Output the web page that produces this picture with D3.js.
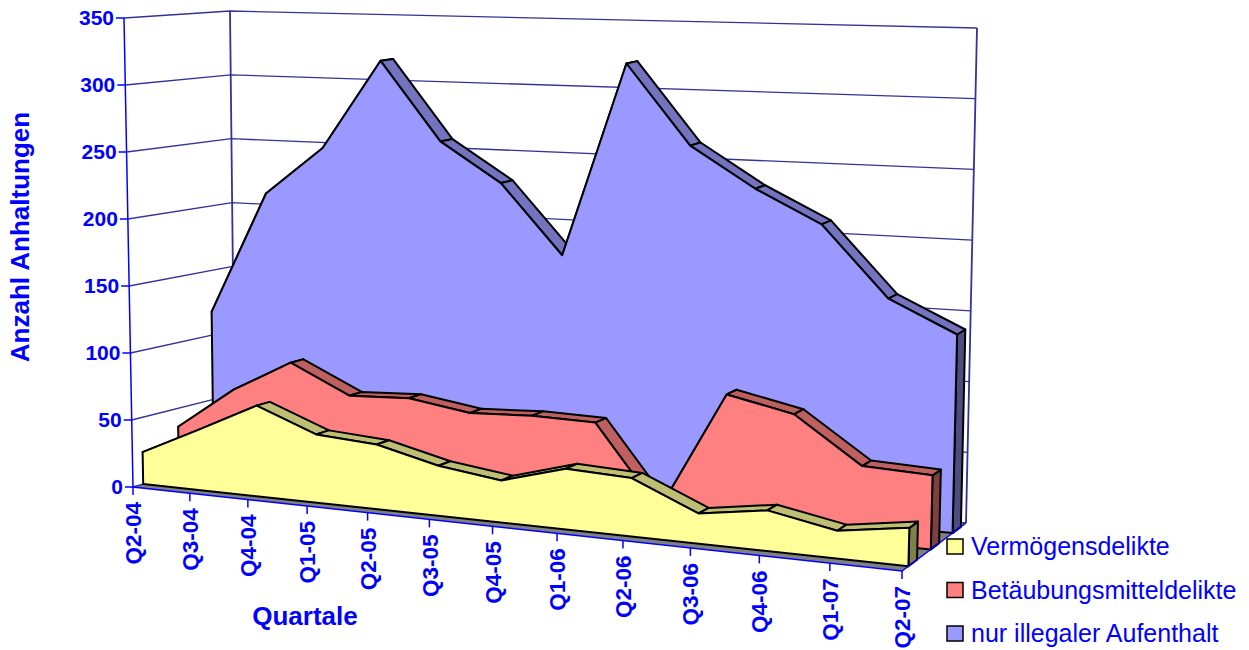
<!DOCTYPE html>
<html>
<head>
<meta charset="utf-8">
<script src="https://cdn.jsdelivr.net/npm/d3@7"></script>
<style>
  body { margin: 0; background: #fff; }
  text { font-family: 'Liberation Sans', Arial, sans-serif; fill: #0000ff; }
</style>
</head>
<body>
<svg width="1249" height="650"></svg>
<script>
const quarters = ['Q2-04', 'Q3-04', 'Q4-04', 'Q1-05', 'Q2-05', 'Q3-05', 'Q4-05', 'Q1-06', 'Q2-06', 'Q3-06', 'Q4-06', 'Q1-07', 'Q2-07']
const yTicks = [0, 50, 100, 150, 200, 250, 300, 350]
const vermoegen = [24, 45, 67, 50, 47, 36, 30, 43, 41, 21, 28, 19, 26]
const betaeubung = [36, 68, 92, 71, 73, 66, 68, 67, 9, 95, 85, 53, 51]
const illegal = [118, 212, 249, 317, 258, 229, 178, 321, 263, 234, 211, 161, 139]
const seriesNames = ['Vermögensdelikte', 'Betäubungsmitteldelikte', 'nur illegaler Aufenthalt']

// corners of the 3d box in screen pixels, floor and top, front and back
const floorFL = [133, 487]
const floorFR = [902, 571]
const floorBL = [235, 458]
const floorBR = [966, 523]
const topFL = [124, 18]
const topFR = [915, 52]
const topBL = [230, 11]
const topBR = [977, 28]

const x = d3.scalePoint().domain(d3.range(quarters.length)).range([0, 1])
const y = d3.scaleLinear().domain([0, 350]).range([0, 1])
const mix = d3.interpolateArray

// categories get wider towards the right because of the perspective
function warp (t, z) {
  const a = -0.122 + 0.012 * z
  return t * (1 + a) / (1 + a * t)
}

function project (i, value, z) {
  const u = warp(x(i), z)
  const bottom = mix(mix(floorFL, floorFR)(u), mix(floorBL, floorBR)(u))(z)
  const top = mix(mix(topFL, topFR)(u), mix(topBL, topBR)(u))(z)
  return mix(bottom, top)(y(value))
}

// wall and floor lines are not tied to a category, they use the end points
function boxPoint (t, value, z) {
  const bottom = mix(mix(floorFL, floorFR)(t), mix(floorBL, floorBR)(t))(z)
  const top = mix(mix(topFL, topFR)(t), mix(topBL, topBR)(t))(z)
  return mix(bottom, top)(y(value))
}

const svg = d3.select('svg')
const line = d3.line()
const poly = function (pts) { return line(pts) + 'Z' }

// floor
svg.append('path')
  .attr('d', poly([floorFL, floorFR, floorBR, floorBL]))
  .attr('fill', '#808080')

// grid on side wall and back wall
const wallColor = '#333399'
svg.selectAll('.grid')
  .data(yTicks)
  .enter().append('path')
  .attr('class', 'grid')
  .attr('fill', 'none')
  .attr('stroke', wallColor)
  .attr('stroke-width', 1.3)
  .attr('d', function (d) { return line([boxPoint(0, d, 0), boxPoint(0, d, 1), boxPoint(1, d, 1)]) })

svg.append('path')
  .attr('d', line([floorBL, topBL]))
  .attr('stroke', wallColor)
  .attr('stroke-width', 1.8)
svg.append('path')
  .attr('d', line([floorBR, topBR]))
  .attr('stroke', wallColor)
  .attr('stroke-width', 1.8)

// series are drawn back to front
const series = [
  { values: illegal, z0: 0.79, z1: 0.92, face: '#9999ff', ridge: '#7373bf', side: '#4d4d80' },
  { values: betaeubung, z0: 0.45, z1: 0.58, face: '#ff8080', ridge: '#bf6060', side: '#804040' },
  { values: vermoegen, z0: 0.10, z1: 0.235, face: '#ffff99', ridge: '#bfbf73', side: '#80804d' }
]

series.forEach(function (s) {
  const g = svg.append('g')
    .attr('stroke', '#000')
    .attr('stroke-width', 2)
    .attr('stroke-linejoin', 'round')
  const last = s.values.length - 1

  // right end
  g.append('path')
    .attr('fill', s.side)
    .attr('d', poly([project(last, s.values[last], s.z0), project(last, s.values[last], s.z1), project(last, 0, s.z1), project(last, 0, s.z0)]))

  // top facets
  g.selectAll('.ridge')
    .data(d3.range(last))
    .enter().append('path')
    .attr('class', 'ridge')
    .attr('fill', s.ridge)
    .attr('d', function (i) {
      return poly([project(i, s.values[i], s.z0), project(i, s.values[i], s.z1), project(i + 1, s.values[i + 1], s.z1), project(i + 1, s.values[i + 1], s.z0)])
    })

  // front face
  const front = s.values.map(function (v, i) { return project(i, v, s.z0) })
  g.append('path')
    .attr('fill', s.face)
    .attr('d', poly(front.concat([project(last, 0, s.z0), project(0, 0, s.z0)])))
})

// axes
const axisColor = '#0000ff'
svg.append('path')
  .attr('d', line([topFL, floorFL, floorFR, floorBR]))
  .attr('fill', 'none')
  .attr('stroke', axisColor)
  .attr('stroke-width', 1.5)

const yTick = svg.selectAll('.ytick')
  .data(yTicks)
  .enter().append('g')
  .attr('class', 'ytick')
  .attr('transform', function (d) { return 'translate(' + boxPoint(0, d, 0) + ')' })
yTick.append('line')
  .attr('x1', -8)
  .attr('stroke', axisColor)
  .attr('stroke-width', 1.5)
yTick.append('text')
  .attr('x', -10)
  .attr('dy', '0.34em')
  .attr('text-anchor', 'end')
  .attr('font-size', 21)
  .attr('font-weight', 'bold')
  .text(function (d) { return d })

const xTick = svg.selectAll('.xtick')
  .data(quarters)
  .enter().append('g')
  .attr('class', 'xtick')
  .attr('transform', function (d, i) { return 'translate(' + project(i, 0, 0) + ')' })
xTick.append('line')
  .attr('y2', 8)
  .attr('stroke', axisColor)
  .attr('stroke-width', 1.5)
xTick.append('text')
  .attr('transform', 'translate(0,15) rotate(-90)')
  .attr('dy', '0.36em')
  .attr('text-anchor', 'end')
  .attr('font-size', 22.5)
  .attr('font-weight', 'bold')
  .text(function (d) { return d })

// titles
svg.append('text')
  .attr('transform', 'translate(20,237) rotate(-90)')
  .attr('dy', '0.36em')
  .attr('text-anchor', 'middle')
  .attr('font-size', 26)
  .attr('font-weight', 'bold')
  .text('Anzahl Anhaltungen')
svg.append('text')
  .attr('x', 305)
  .attr('y', 625)
  .attr('text-anchor', 'middle')
  .attr('font-size', 26)
  .attr('font-weight', 'bold')
  .text('Quartale')

// legend, same order as the series from front to back
const legendColors = ['#ffff99', '#ff8080', '#9999ff']
const legend = svg.selectAll('.legend')
  .data(seriesNames)
  .enter().append('g')
  .attr('class', 'legend')
  .attr('transform', function (d, i) { return 'translate(947,' + (539 + i * 43.5) + ')' })
legend.append('rect')
  .attr('width', 16)
  .attr('height', 15)
  .attr('fill', function (d, i) { return legendColors[i] })
  .attr('stroke', '#000')
  .attr('stroke-width', 1.5)
legend.append('text')
  .attr('x', 24)
  .attr('y', 16)
  .attr('font-size', 25)
  .text(function (d) { return d })
</script>
</body>
</html>
